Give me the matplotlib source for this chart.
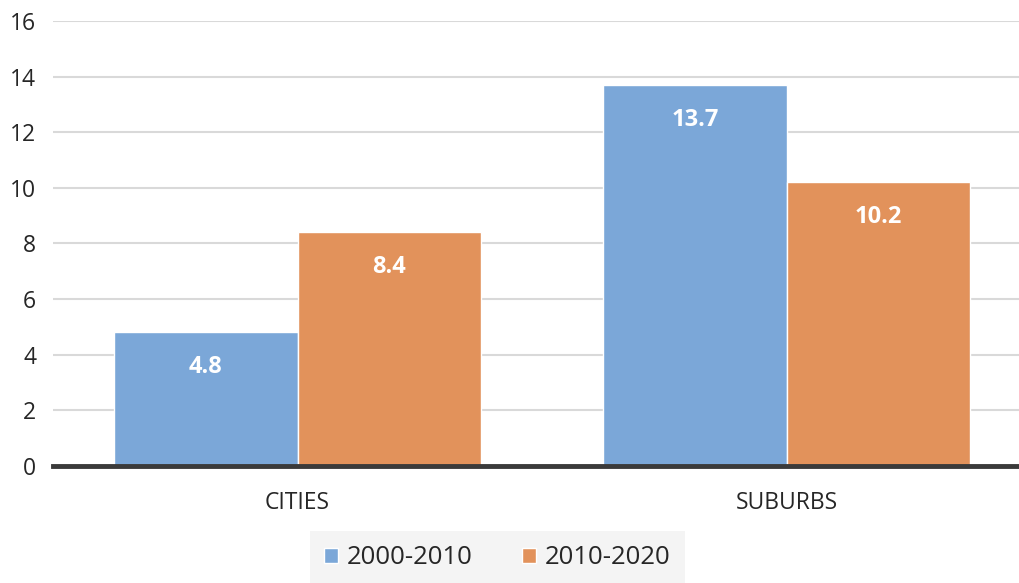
import numpy as np
import matplotlib
matplotlib.use("Agg")
from matplotlib import pyplot as plt

# Chart data
categories = ["CITIES", "SUBURBS"]
series_names = ["2000-2010", "2010-2020"]
values_2000_2010 = [4.8, 13.7]
values_2010_2020 = [8.4, 10.2]
y_ticks = [0, 2, 4, 6, 8, 10, 12, 14, 16]

BLUE = "#7ba7d8"
ORANGE = "#e2925b"

plt.rcParams['font.family'] = ['Open Sans', 'DejaVu Sans']

def main():
    fig = plt.figure(figsize=(10.19, 5.83), dpi=100)
    ax = fig.add_axes([0.052, 0.2007, 0.948, 0.7633])

    x = np.arange(len(categories))
    width = 0.375
    bars1 = ax.bar(x - width / 2, values_2000_2010, width, color=BLUE,
                   edgecolor="white", linewidth=1, label=series_names[0], zorder=2)
    bars2 = ax.bar(x + width / 2, values_2010_2020, width, color=ORANGE,
                   edgecolor="white", linewidth=1, label=series_names[1], zorder=2)

    # value labels inside bars, near the top
    for bars in (bars1, bars2):
        for b in bars:
            h = b.get_height()
            ax.text(b.get_x() + b.get_width() / 2, h - 1.25, f"{h:.1f}",
                    ha="center", va="center", color="white",
                    fontsize=17, fontweight="bold", zorder=3)

    ax.set_ylim(0, 16)
    ax.set_xlim(-0.5, 1.475)
    ax.set_yticks(y_ticks)
    ax.set_xticks(x)
    ax.set_xticklabels(categories)
    ax.tick_params(axis="both", length=0, labelsize=16.5, colors="#262626")
    ax.tick_params(axis="x", pad=18)
    ax.tick_params(axis="y", pad=12)

    ax.yaxis.grid(True, color="#d9d9d9", linewidth=1.5, zorder=0)
    ax.set_axisbelow(True)
    for side in ("top", "right", "left"):
        ax.spines[side].set_visible(False)
    ax.spines["bottom"].set_color("#3a3a3a")
    ax.spines["bottom"].set_linewidth(3.5)
    ax.spines["bottom"].set_zorder(4)

    leg = fig.legend(handles=[bars1, bars2], labels=series_names,
                     loc="center", bbox_to_anchor=(0.488, 0.043), ncol=2,
                     fontsize=18.5, frameon=True, fancybox=False,
                     handlelength=0.55, handleheight=0.55, handletextpad=0.35,
                     columnspacing=1.9, borderpad=0.55, borderaxespad=0)
    leg.get_frame().set_facecolor("#f2f2f2")
    leg.get_frame().set_edgecolor("none")
    for t in leg.get_texts():
        t.set_color("#262626")

    fig.savefig("out.png", dpi=100)

if __name__ == "__main__":
    main()
